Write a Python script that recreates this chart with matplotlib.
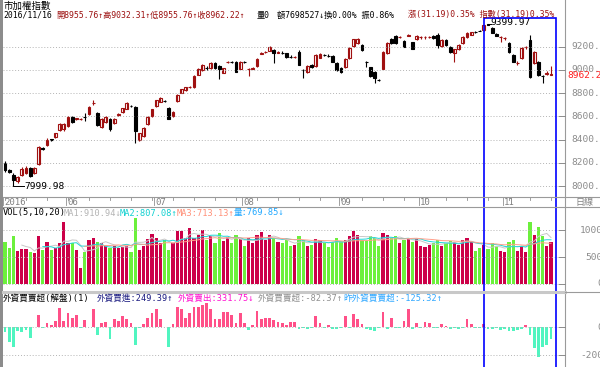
import numpy as np
import matplotlib
matplotlib.use("Agg")
import matplotlib.pyplot as plt
from matplotlib.patches import Rectangle

plt.rcParams['font.family'] = ['DejaVu Sans Mono', 'Noto Sans CJK TC']

# daily candles, 2016/05 - 2016/11/16
opens = [8198, 8135, 8095, 8045, 8095, 8112, 8155, 8112, 8190, 8330,
         8353, 8402, 8422, 8483, 8490, 8517, 8595, 8575, 8578, 8597,
         8621, 8712, 8629, 8509, 8552, 8578, 8543, 8615, 8638, 8664,
         8693, 8681, 8397, 8431, 8534, 8603, 8690, 8724, 8735, 8672,
         8603, 8733, 8802, 8828, 8850, 8853, 8960, 9000, 9020, 9017,
         9060, 9034, 8974, 9066, 9072, 9069, 9009, 9072, 9007, 9012,
         9034, 9140, 9152, 9164, 9172, 9150, 9148, 9146, 9114, 9108,
         9155, 9002, 8983, 9043, 9034, 9103, 9131, 9123, 9121, 9060,
         9017, 9026, 9103, 9207, 9233, 9215, 9072, 9026, 8983, 8916,
         9009, 9146, 9267, 9293, 9282, 9250, 9296, 9241, 9267, 9282,
         9282, 9283, 9293, 9302, 9207, 9259, 9198, 9146, 9181, 9233,
         9284, 9302, 9330, 9340, 9345, 9398, 9362, 9310, 9282, 9274,
         9233, 9129, 9058, 9103, 9196, 9259, 9060, 9069, 8950, 8968,
         8955.76]
highs = [8215, 8150, 8110, 8090, 8160, 8170, 8165, 8165, 8345, 8340,
         8410, 8405, 8460, 8545, 8540, 8600, 8600, 8590, 8590, 8630,
         8690, 8740, 8635, 8585, 8600, 8590, 8585, 8630, 8675, 8720,
         8698, 8690, 8460, 8510, 8600, 8668, 8745, 8765, 8740, 8680,
         8645, 8790, 8840, 8855, 8858, 8955, 9015, 9050, 9035, 9065,
         9065, 9040, 9020, 9080, 9080, 9075, 9075, 9076, 9020, 9025,
         9100, 9152, 9160, 9205, 9180, 9160, 9160, 9150, 9125, 9120,
         9175, 9010, 9040, 9048, 9135, 9145, 9140, 9135, 9128, 9065,
         9022, 9100, 9195, 9270, 9272, 9222, 9080, 9030, 8990, 8925,
         9160, 9240, 9272, 9300, 9295, 9255, 9310, 9245, 9300, 9290,
         9290, 9292, 9300, 9315, 9265, 9265, 9205, 9185, 9220, 9290,
         9325, 9330, 9340, 9348, 9392, 9399.97, 9370, 9315, 9290, 9285,
         9240, 9135, 9080, 9195, 9210, 9302, 9160, 9075, 8955, 8990,
         9032.31]
lows = [8121, 8110, 7999.98, 8030, 8085, 8100, 8080, 8100, 8180, 8310,
        8345, 8392, 8415, 8475, 8475, 8510, 8545, 8570, 8570, 8560,
        8615, 8700, 8515, 8500, 8545, 8474, 8535, 8605, 8630, 8660,
        8685, 8371, 8390, 8425, 8530, 8598, 8685, 8720, 8725, 8575,
        8598, 8728, 8798, 8822, 8842, 8848, 8955, 8995, 9000, 9012,
        9012, 8922, 8970, 9060, 9060, 8980, 9005, 9064, 8948, 9005,
        9030, 9135, 9145, 9160, 9060, 9145, 9135, 9105, 9100, 9100,
        9040, 8931, 8978, 9020, 9030, 9100, 9120, 9115, 9065, 8995,
        8975, 9020, 9098, 9200, 9228, 9165, 9026, 8940, 8888, 8905,
        9005, 9140, 9225, 9228, 9275, 9195, 9290, 9178, 9262, 9270,
        9270, 9272, 9270, 9190, 9200, 9210, 9150, 9069, 9175, 9228,
        9280, 9298, 9320, 9332, 9340, 9385, 9315, 9290, 9241, 9260,
        9146, 9069, 9045, 9098, 9185, 8930, 9055, 8950, 8888, 8955,
        8955.76]
closes = [8138, 8125, 8052, 8075, 8145, 8155, 8086, 8155, 8336, 8319,
          8397, 8395, 8455, 8534, 8535, 8595, 8552, 8582, 8580, 8593,
          8681, 8715, 8526, 8578, 8595, 8491, 8578, 8621, 8672, 8715,
          8688, 8474, 8457, 8500, 8595, 8664, 8741, 8759, 8730, 8578,
          8638, 8784, 8836, 8850, 8853, 8950, 9009, 9043, 9015, 9060,
          9017, 9009, 9017, 9070, 9068, 8983, 9069, 9068, 9010, 9018,
          9095, 9146, 9155, 9198, 9146, 9156, 9146, 9112, 9112, 9114,
          9043, 9000, 9034, 9026, 9129, 9138, 9129, 9121, 9069, 9000,
          8983, 9095, 9190, 9267, 9267, 9172, 9069, 8948, 8931, 8914,
          9155, 9233, 9233, 9233, 9286, 9198, 9302, 9181, 9293, 9286,
          9286, 9286, 9276, 9215, 9259, 9215, 9155, 9181, 9215, 9284,
          9319, 9327, 9327, 9336, 9388, 9392, 9319, 9293, 9285, 9277,
          9155, 9069, 9062, 9190, 9199, 8940, 9155, 8957, 8948, 8975,
          8962.22]

volumes = [782, 672, 894, 610, 647, 647, 586, 567, 894, 629,
           782, 629, 660, 752, 1153, 752, 765, 629, 290, 598,
           814, 845, 782, 752, 721, 660, 709, 660, 690, 709,
           598, 1227, 629, 709, 833, 919, 845, 752, 814, 629,
           752, 980, 980, 845, 1030, 845, 900, 1000, 820, 880,
           760, 950, 800, 870, 760, 900, 830, 700, 850, 760,
           900, 960, 820, 900, 860, 780, 760, 820, 700, 720,
           880, 820, 700, 720, 830, 820, 760, 690, 780, 860,
           800, 820, 880, 980, 900, 820, 800, 880, 860, 700,
           950, 900, 860, 880, 760, 820, 860, 780, 830, 700,
           680, 720, 760, 820, 700, 760, 800, 780, 720, 820,
           860, 780, 620, 660, 720, 640, 760, 700, 620, 600,
           780, 820, 620, 700, 600, 1150, 900, 1050, 880, 700,
           769.85]

foreign = [-33, -105, -140, -28, -38, -21, -81, 3, 86, -5,
           31, 14, 43, 138, 43, 98, 67, 86, -5, 50,
           2, 128, -57, 26, 38, -86, 57, 43, 78, 55,
           31, -128, -5, 19, 62, 98, 128, 57, 2, -140,
           19, 145, 128, 67, 98, 145, 145, 157, 174, 126,
           55, 55, 110, 105, 86, 31, 98, 31, -20, 14,
           117, 55, 62, 62, 50, 38, 31, 14, 38, 38,
           -15, -10, -12, -8, 78, 31, -10, 14, -15, -12,
           -10, 78, -8, 90, 55, 21, -15, -20, -25, -10,
           110, -12, 67, -10, -8, 43, 126, -12, 31, -10,
           38, 26, -10, -8, 21, 7, -15, -10, -12, -10,
           55, 21, -10, -8, 21, -15, -12, -10, -20, -15,
           -25, -30, -20, -15, 14, -60, -150, -215, -140, -125.32,
           -82.37]

month_labels = ['2016', '06', '07', '08', '09', '10', '11']
month_starts = [0, 15, 36, 57, 80, 99, 119]
price_ticks = [8000, 8200, 8400, 8600, 8800, 9000, 9200]
vol_ticks = [0, 500, 1000]
foreign_ticks = [-200, 0]

W, H = 600, 367
fig = plt.figure(figsize=(6, 3.67), dpi=100)
fig.patch.set_facecolor('white')


def px_axes(x0, y0, x1, y1):
    # pixel box measured from the top-left corner
    ax = fig.add_axes([x0 / W, 1 - y1 / H, (x1 - x0) / W, (y1 - y0) / H])
    ax.set_facecolor('none')
    for s in ax.spines.values():
        s.set_visible(False)
    ax.set_xticks([])
    ax.set_yticks([])
    return ax


def fx(px):
    return px / W


def fy(py):
    return 1 - py / H


n = len(closes)
idx = np.arange(n)
x_per_px = 1 / 4.2
xlim = (-(5 - 3) * x_per_px, (565 - 5) * x_per_px)

GRID = dict(color='#b4b4b4', lw=0.7, ls=(0, (1, 2)))
up_col = '#a01010'
vol_red = '#cc0048'
vol_green = '#6cf03c'

# ---- price panel ----
axp = px_axes(3, 15, 565, 197)
axp.set_xlim(*xlim)
axp.set_ylim(8000 - 11 * 200 / 23.2, 8000 + 171 * 200 / 23.2)
for t in price_ticks:
    axp.axhline(t, **GRID)

o = np.array(opens); c = np.array(closes)
hi = np.array(highs); lo = np.array(lows)
up = c >= o
axp.vlines(idx[up], lo[up], hi[up], color=up_col, lw=0.8)
axp.vlines(idx[~up], lo[~up], hi[~up], color='black', lw=0.8)
body = np.maximum(np.abs(c - o), 1.5)
axp.bar(idx[up], body[up], bottom=np.minimum(o, c)[up], width=0.62,
        facecolor='white', edgecolor=up_col, lw=0.8)
axp.bar(idx[~up], body[~up], bottom=np.minimum(o, c)[~up], width=0.62,
        facecolor='black', edgecolor='black', lw=0.8)

# extreme labels
imax = int(np.argmax(hi)); imin = int(np.argmin(lo))
axp.plot([imax, imax + 0.6], [hi[imax], hi[imax]], color='black', lw=0.7)
axp.text(imax + 0.6, hi[imax] + 10, '%.2f' % hi[imax], fontsize=6.8, va='center', ha='left')
axp.plot([imin, imin, imin + 2.6], [lo[imin] + 40, lo[imin], lo[imin]], color='black', lw=0.7)
axp.text(imin + 2.7, lo[imin] - 5, '%.2f' % lo[imin], fontsize=6.8, va='center', ha='left')

# ---- date row ----
axd = px_axes(3, 197, 565, 207)
axd.set_xlim(*xlim)
axd.set_ylim(0, 1)
for k in range(0, n, 5):
    axd.plot([k, k], [1, 0.7], color='#909090', lw=0.6)
for lab, s in zip(month_labels, month_starts):
    axd.plot([s - 0.5, s - 0.5], [1, 0.2], color='#909090', lw=0.6)
    axd.text(s - 0.2, 0.45, lab, fontsize=6.5, color='#808080', va='center', ha='left')

# ---- volume panel ----
axv = px_axes(3, 207, 565, 292)
axv.set_xlim(*xlim)
axv.set_ylim(-8 * 500 / 27, 77 * 500 / 27)
for t in vol_ticks:
    axv.axhline(t, **GRID)
vol = np.array(volumes)
axv.bar(idx, vol, width=0.72, color=np.where(up, vol_red, vol_green))
for w, col in [(5, '#c8c8c8'), (10, '#20d8d8'), (20, '#ffa08c')]:
    ma = np.convolve(vol, np.ones(w) / w, mode='valid')
    axv.plot(idx[w - 1:], ma, color=col, lw=0.7)

# ---- foreign buy/sell panel ----
axf = px_axes(3, 292, 565, 367)
axf.set_xlim(*xlim)
axf.set_ylim(-40 * 200 / 28, 35 * 200 / 28)
for t in foreign_ticks:
    axf.axhline(t, **GRID)
fr = np.array(foreign)
axf.bar(idx, fr, width=0.62, color=np.where(fr >= 0, '#ff5088', '#50f5c0'))

# ---- frame lines ----
line_kw = dict(transform=fig.transFigure, color='#9a9a9a', lw=0.8)
fig.add_artist(plt.Line2D([fx(565), fx(565)], [0, 1], **line_kw))
fig.add_artist(plt.Line2D([fx(3), 1], [fy(197), fy(197)], **line_kw))
fig.add_artist(plt.Line2D([fx(3), 1], [fy(207), fy(207)], **line_kw))
fig.add_artist(plt.Line2D([fx(3), fx(565)], [fy(292), fy(292)],
                          transform=fig.transFigure, color='#c8c8c8', lw=2.2))
fig.add_artist(plt.Line2D([fx(565), 1], [fy(292), fy(292)], **line_kw))
fig.add_artist(Rectangle((0, 0), fx(2.5), 1, transform=fig.transFigure,
                         color='#8c8c8c', lw=0))

# ---- right axis labels ----
tick_kw = dict(transform=fig.transFigure, color='#8c8c8c', lw=0.7)
for ax, ticks, fmt, ha, xpos in [(axp, price_ticks, '%.2f', 'left', 571),
                                 (axv, vol_ticks, '%d', 'right', 603),
                                 (axf, foreign_ticks, '%d', 'right', 603)]:
    for t in ticks:
        yf = fig.transFigure.inverted().transform(ax.transData.transform((0, t)))[1]
        fig.add_artist(plt.Line2D([fx(559), fx(565)], [yf, yf], **tick_kw))
        fig.text(fx(xpos), yf, fmt % t, fontsize=6.8, color='#8c8c8c', ha=ha, va='center')
yf = fig.transFigure.inverted().transform(axp.transData.transform((0, closes[-1])))[1]
fig.text(fx(567), yf - 0.004, '%.2f' % closes[-1], fontsize=6.8, color='#ff2020', ha='left', va='center')
fig.text(fx(575), fy(202), '日線', fontsize=6.5, color='#808080', ha='left', va='center')

# ---- header texts ----
fig.text(fx(3), fy(6), '市加權指數', fontsize=6.8, color='black', va='center')
hdr = [(3, '2016/11/16', 'black'),
       (56, '開8955.76↑高9032.31↑低8955.76↑收8962.22↑', '#9c1010'),
       (257, '量0', 'black'),
       (277, '額7698527↓換0.00% 振0.86%', 'black'),
       (408, '漲(31.19)0.35% 指數(31.19)0.35%', '#9c1010')]
for x, s, col in hdr:
    fig.text(fx(x), fy(15), s, fontsize=5.9, color=col, va='center')

vol_hdr = [(3, 'VOL(5,10,20)', 'black'), (64, 'MA1:910.94↓', '#b4b4b4'),
           (120, 'MA2:807.08↑', '#10d0d0'), (177, 'MA3:713.13↑', '#ff9078'),
           (234, '量:769.85↓', '#20a8ff')]
for x, s, col in vol_hdr:
    fig.text(fx(x), fy(213), s, fontsize=6.2, color=col, va='center')

for_hdr = [(3, '外資買賣超(解盤)(1)', 'black'), (97, '外資買進:249.39↑', '#1a1a80'),
           (178, '外資賣出:331.75↓', '#ff10d0'), (258, '外資買賣超:-82.37↑', '#909090'),
           (343, '昨外資買賣超:-125.32↑', '#30a8ff')]
for x, s, col in for_hdr:
    fig.text(fx(x), fy(298), s, fontsize=6.2, color=col, va='center')

# highlight box
fig.add_artist(Rectangle((fx(484), -0.01), fx(556) - fx(484), fy(18) + 0.01,
                         transform=fig.transFigure, fill=False, edgecolor='#0000ff', lw=1.2))

fig.savefig('out.png', dpi=100)
